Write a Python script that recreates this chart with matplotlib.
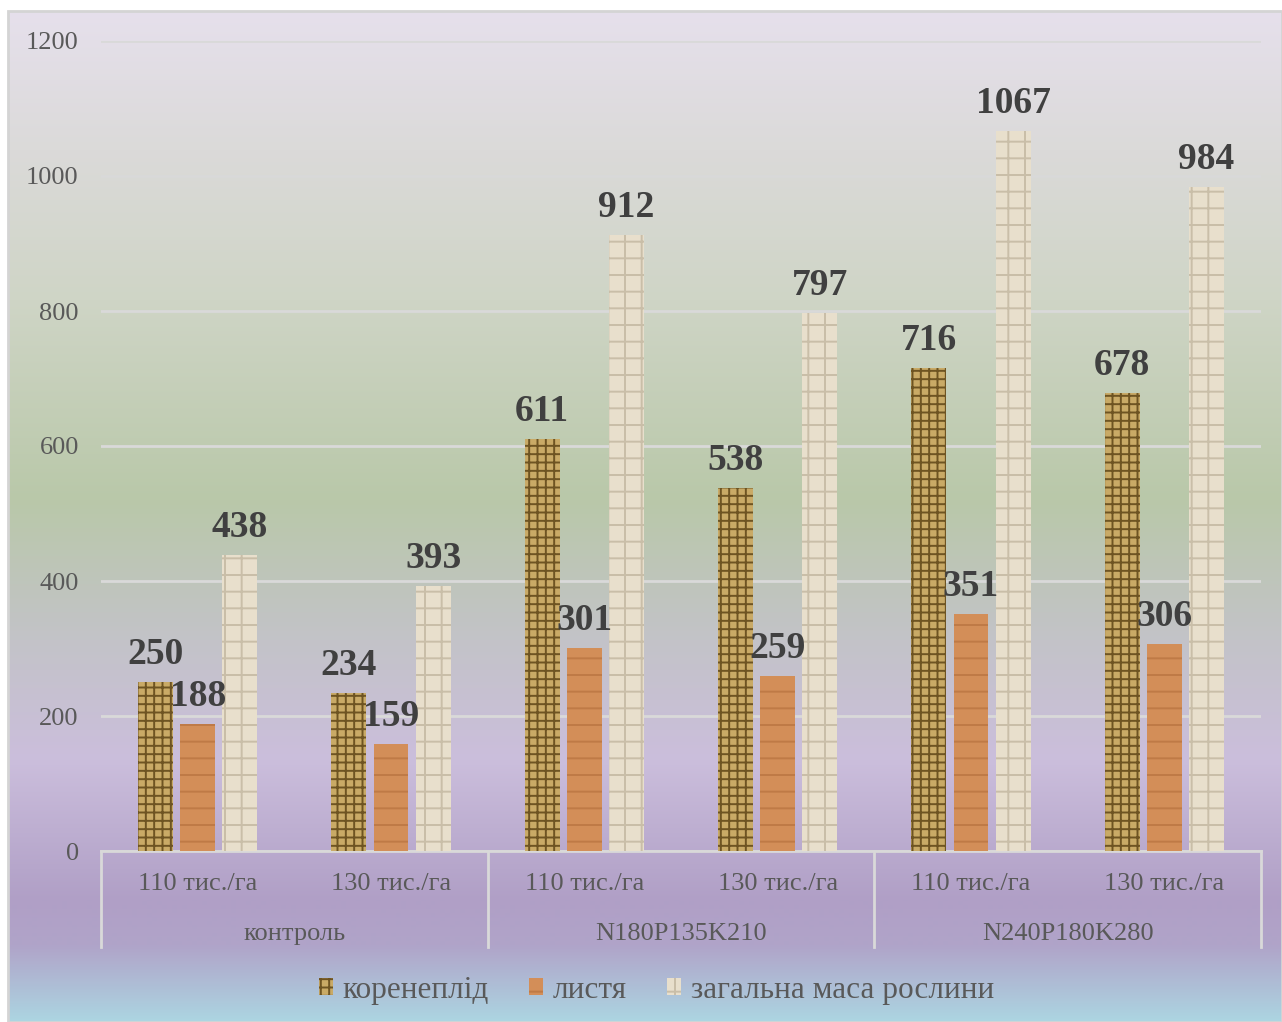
import numpy as np
import matplotlib
matplotlib.use("Agg")
import matplotlib.pyplot as plt
from matplotlib.patches import Patch, Rectangle
from matplotlib.colors import to_rgb
from matplotlib.transforms import blended_transform_factory

# ---- data ----
densities = ["110 тис./га", "130 тис./га", "110 тис./га", "130 тис./га", "110 тис./га", "130 тис./га"]
groups = ["контроль", "N180P135K210", "N240P180K280"]
series_names = ["коренеплід", "листя", "загальна маса рослини"]
root_crop = [250, 234, 611, 538, 716, 678]
leaves = [188, 159, 301, 259, 351, 306]
total_mass = [438, 393, 912, 797, 1067, 984]
y_ticks = [0, 200, 400, 600, 800, 1000, 1200]

plt.rcParams["font.family"] = ["Liberation Serif", "DejaVu Serif"]
plt.rcParams["hatch.linewidth"] = 1.4

W, H = 1282, 1022
fig = plt.figure(figsize=(W / 100, H / 100), dpi=100)
fig.patch.set_facecolor("white")

# ---- gradient background panel ----
stops = [(11, "#e6e0ec"), (150, "#dbdad9"), (300, "#cfd5c6"), (500, "#b9c8a9"),
         (640, "#c3c3c8"), (760, "#cbbedc"), (900, "#b09fc6"), (945, "#b0a4c9"),
         (1022, "#acd6e2")]
rows = np.arange(11, H)
ys = [s[0] for s in stops]
cols = np.array([to_rgb(s[1]) for s in stops])
grad = np.stack([np.interp(rows, ys, cols[:, k]) for k in range(3)], axis=1)
grad = grad[:, None, :]
bg = fig.add_axes([8 / W, 0, 1 - 8 / W, (H - 11) / H], zorder=-10)
bg.imshow(grad, aspect="auto", extent=[0, 1, 0, 1], origin="upper", interpolation="bilinear")
bg.set_xlim(0, 1)
bg.set_ylim(0, 1)
bg.axis("off")
bg.add_patch(Rectangle((0, 0), 1, 1, transform=bg.transAxes, fill=False,
                       edgecolor="#d4d4d4", linewidth=2, clip_on=False))

# ---- main axes ----
left, right, y0, ytop = 101, 1261, 851, 41
ax = fig.add_axes([left / W, (H - y0) / H, (right - left) / W, (y0 - ytop) / H])
ax.set_facecolor("none")

x = np.arange(len(densities))
width = 0.18
step = 0.218

styles = [
    dict(facecolor="#c9aa66", edgecolor="#6e5422", hatch="++"),
    dict(facecolor="#d38e58", edgecolor="#bf7a46", hatch="-"),
    dict(facecolor="#e8dfcc", edgecolor="#c9bea8", hatch="+"),
]
series = [root_crop, leaves, total_mass]

for k, (vals, st) in enumerate(zip(series, styles)):
    bars = ax.bar(x + (k - 1) * step, vals, width, linewidth=0, zorder=3, **st)
    for b, v in zip(bars, vals):
        ax.annotate(f"{v}", (b.get_x() + b.get_width() / 2, v), xytext=(0, 13),
                    textcoords="offset points", ha="center", va="baseline",
                    fontsize=27, fontweight="bold", color="#404040", zorder=5)

ax.set_xlim(-0.5, len(densities) - 0.5)
ax.set_ylim(0, 1200)
ax.set_yticks(y_ticks)
ax.set_yticklabels([str(t) for t in y_ticks])
ax.tick_params(axis="y", length=0, pad=16, labelsize=19, labelcolor="#595959")
ax.set_xticks([])
for s in ["top", "right", "left"]:
    ax.spines[s].set_visible(False)
ax.spines["bottom"].set_color("#d9d9d9")
ax.spines["bottom"].set_linewidth(2)
ax.grid(axis="y", color="#d9d9d9", linewidth=2, zorder=0)
ax.set_axisbelow(True)

# ---- two-level category axis ----
tr = blended_transform_factory(ax.transData, ax.transAxes)
for i, lab in enumerate(densities):
    ax.text(i, -0.0405, lab, transform=tr, ha="center", va="center",
            fontsize=19, color="#595959")
for g, lab in enumerate(groups):
    ax.text(2 * g + 0.5, -0.103, lab, transform=tr, ha="center", va="center",
            fontsize=19, color="#595959")
for xb in [-0.5, 1.5, 3.5, 5.5]:
    ax.plot([xb, xb], [0, -0.1185], transform=tr, color="#d9d9d9",
            linewidth=2, clip_on=False)

# ---- legend ----
handles = [Patch(linewidth=0, **st) for st in styles]
leg = fig.legend(handles, series_names, loc="center", bbox_to_anchor=(0.512, (H - 990) / H),
                 ncol=3, frameon=False, fontsize=22.5, handlelength=0.45, handleheight=0.45,
                 handletextpad=0.3, columnspacing=1.3)
for t in leg.get_texts():
    t.set_color("#595959")

fig.savefig("out.png", dpi=100)
